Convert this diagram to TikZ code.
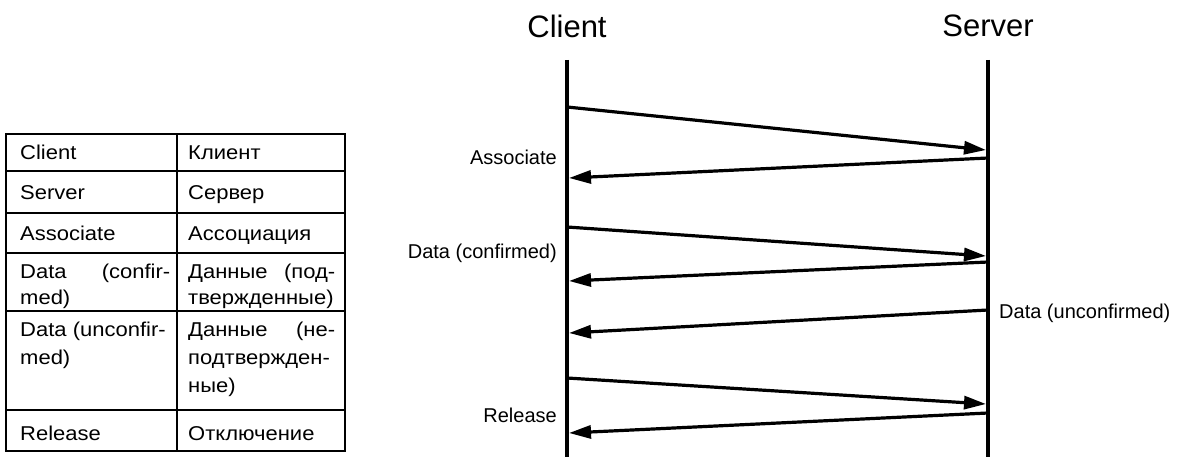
\documentclass[tikz,border=0pt]{standalone}
\usepackage{fontspec}
\setmainfont{Liberation Sans}
\usetikzlibrary{arrows.meta}
\newcommand\X[1]{\scalebox{1.1}[1]{#1}}
\begin{document}
\begin{tikzpicture}[x=1pt,y=-1pt,
  life/.style={line width=3.8pt},
  msg/.style={line width=3.2pt,-{Triangle[length=22pt,width=13pt]}},
  grid/.style={line width=1.2pt},
  tcell/.style={anchor=base west,inner sep=0pt,font=\fontsize{20}{24}\selectfont},
  lbl/.style={inner sep=0pt,font=\fontsize{20}{24}\selectfont},
  head/.style={inner sep=0pt,font=\fontsize{31}{36}\selectfont}]
\useasboundingbox (0,0) rectangle (1190,457);
% table
\draw[grid] (6,134) rectangle (345,451);
\draw[grid] (177,134) -- (177,451);
\foreach \yy in {171,213,253,311,410} \draw[grid] (6,\yy) -- (345,\yy);
\node[tcell] (a1) at (20,160) {\X{Client}};
\node[tcell] (b1) at (188,160) {\X{Клиент}};
\node[tcell] (a2) at (20,200) {\X{Server}};
\node[tcell] (b2) at (188,200) {\X{Сервер}};
\node[tcell] (a3) at (20,240) {\X{Associate}};
\node[tcell] (b3) at (188,240) {\X{Ассоциация}};
\node[tcell] (a4) at (20,278) {\makebox[150pt][s]{\X{Data} \X{(confir-}}};
\node[tcell] (a4b) at (20,304) {\X{med)}};
\node[tcell] (b4) at (188,278) {\makebox[147pt][s]{\X{Данные} \X{(под-}}};
\node[tcell] (b4b) at (188,304) {\X{твержденные)}};
\node[tcell] (a5) at (20,336) {\X{Data (unconfir-}};
\node[tcell] (a5b) at (20,364) {\X{med)}};
\node[tcell] (b5) at (188,336) {\makebox[147pt][s]{\X{Данные} \X{(не-}}};
\node[tcell] (b5b) at (188,364) {\X{подтвержден-}};
\node[tcell] (b5c) at (188,392) {\X{ные)}};
\node[tcell] (a6) at (20,440) {\X{Release}};
\node[tcell] (b6) at (188,440) {\X{Отключение}};
% headers and lifelines
\node[head] (client) at (567,26) {Client};
\node[head] (server) at (988,26) {Server};
\coordinate (ctop) at (567,60);
\coordinate (cbot) at (567,457);
\coordinate (stop) at (988,60);
\coordinate (sbot) at (988,457);
\draw[life] (ctop) -- (cbot);
\draw[life] (stop) -- (sbot);
% message points
\coordinate (c1) at (567,107); \coordinate (s1) at (986,150);
\coordinate (s2) at (988,158); \coordinate (c2) at (569,178);
\coordinate (c3) at (567,227); \coordinate (s3) at (986,256);
\coordinate (s4) at (988,262); \coordinate (c4) at (569,281);
\coordinate (s5) at (988,310); \coordinate (c5) at (569,333);
\coordinate (c6) at (567,378); \coordinate (s6) at (986,404);
\coordinate (s7) at (988,413); \coordinate (c7) at (569,433);
\draw[msg] (c1) -- (s1);
\draw[msg] (s2) -- (c2);
\draw[msg] (c3) -- (s3);
\draw[msg] (s4) -- (c4);
\draw[msg] (s5) -- (c5);
\draw[msg] (c6) -- (s6);
\draw[msg] (s7) -- (c7);
% labels
\node[lbl,anchor=east] (lassoc) at (557,157) {Associate};
\node[lbl,anchor=east] (ldata) at (557,253) {Data (confirmed)};
\node[lbl,anchor=west] (lunc) at (999,313) {Data (unconfirmed)};
\node[lbl,anchor=east] (lrel) at (557,415) {Release};
\end{tikzpicture}
\end{document}
